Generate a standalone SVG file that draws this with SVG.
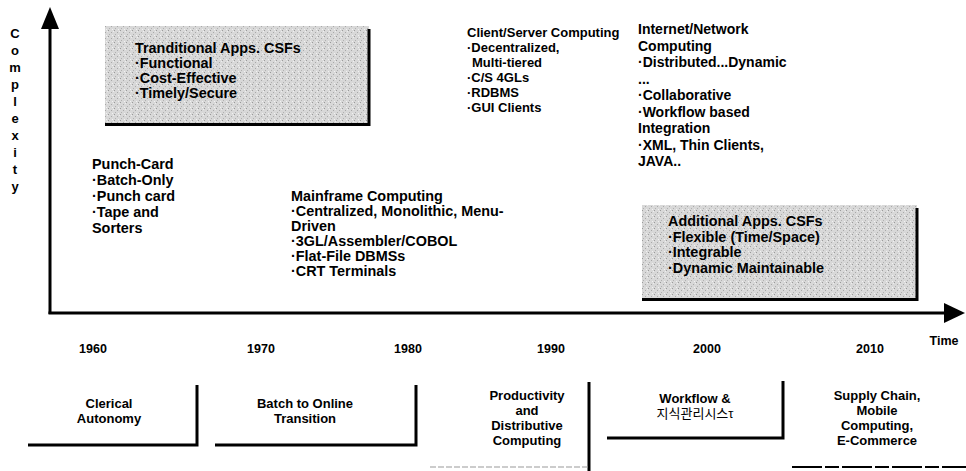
<svg xmlns="http://www.w3.org/2000/svg" width="966" height="471" viewBox="0 0 966 471">
<defs>
<pattern id="speckle" width="6" height="6" patternUnits="userSpaceOnUse">
<rect width="6" height="6" fill="#d8d8d8"/>
<rect x="0" y="0" width="1" height="1" fill="#9a9a9a"/>
<rect x="3" y="2" width="1" height="1" fill="#a8a8a8"/>
<rect x="1" y="4" width="1" height="1" fill="#b0b0b0"/>
<rect x="4" y="5" width="1" height="1" fill="#f2f2f2"/>
<rect x="5" y="1" width="1" height="1" fill="#eeeeee"/>
</pattern>
</defs>
<style>
text{font-family:"Liberation Sans",Arial,"Noto Sans CJK KR",sans-serif;font-weight:bold;fill:#000}
.t{font-size:14.4px}
.s{font-size:13px}
.n{font-size:14px}
.y{font-size:12.5px}
.b{font-size:13px;text-anchor:middle}
.c{font-size:13px;text-anchor:middle}
.ln{stroke:#000;stroke-width:3;fill:none}
.lt{stroke:#999;stroke-width:1.2;fill:none;stroke-dasharray:6 2}
</style>
<rect width="966" height="471" fill="#fff"/>

<g id="axes">
<line class="ln" x1="50" y1="24" x2="50" y2="314"/>
<polygon points="50,7 41,29 59,29" fill="#000"/>
<line class="ln" x1="48.5" y1="313" x2="948" y2="313"/>
<polygon points="965,313 944,303 944,323" fill="#000"/>
</g>

<g id="complexity-label">
<text class="c" x="15" y="38">C</text>
<text class="c" x="15" y="55">o</text>
<text class="c" x="15" y="72">m</text>
<text class="c" x="15" y="89">p</text>
<text class="c" x="15" y="106">l</text>
<text class="c" x="15" y="123">e</text>
<text class="c" x="15" y="140">x</text>
<text class="c" x="15" y="157">i</text>
<text class="c" x="15" y="174">t</text>
<text class="c" x="15" y="191">y</text>
</g>

<g id="traditional-csfs">
<rect x="105" y="26" width="264" height="98" fill="url(#speckle)"/>
<polyline class="ln" points="369,29 369,124.5 105,124.5"/>
<text class="t" x="135" y="53">Tranditional Apps. CSFs</text>
<text class="t" x="135" y="68">·Functional</text>
<text class="t" x="135" y="83">·Cost-Effective</text>
<text class="t" x="135" y="98">·Timely/Secure</text>
</g>

<g id="punch-card">
<text class="t" x="92" y="169">Punch-Card</text>
<text class="t" x="92" y="185">·Batch-Only</text>
<text class="t" x="92" y="201">·Punch card</text>
<text class="t" x="92" y="217">·Tape and</text>
<text class="t" x="92" y="233">Sorters</text>
</g>

<g id="mainframe">
<text class="t" x="291" y="201">Mainframe Computing</text>
<text class="t" x="291" y="216">·Centralized, Monolithic, Menu-</text>
<text class="t" x="291" y="231">Driven</text>
<text class="t" x="291" y="246">·3GL/Assembler/COBOL</text>
<text class="t" x="291" y="261">·Flat-File DBMSs</text>
<text class="t" x="291" y="276">·CRT Terminals</text>
</g>

<g id="client-server">
<text class="s" x="467" y="37">Client/Server Computing</text>
<text class="s" x="467" y="52">·Decentralized,</text>
<text class="s" x="472" y="67">Multi-tiered</text>
<text class="s" x="467" y="82">·C/S 4GLs</text>
<text class="s" x="467" y="97">·RDBMS</text>
<text class="s" x="467" y="112">·GUI Clients</text>
</g>

<g id="internet">
<text class="n" x="638" y="34">Internet/Network</text>
<text class="n" x="638" y="50.5">Computing</text>
<text class="n" x="638" y="67">·Distributed...Dynamic</text>
<text class="n" x="638" y="83.5">...</text>
<text class="n" x="638" y="100">·Collaborative</text>
<text class="n" x="638" y="116.5">·Workflow based</text>
<text class="n" x="638" y="133">Integration</text>
<text class="n" x="638" y="149.5">·XML, Thin Clients,</text>
<text class="n" x="638" y="166">JAVA..</text>
</g>

<g id="additional-csfs">
<rect x="642" y="205" width="275" height="94" fill="url(#speckle)"/>
<polyline class="ln" points="917,208 917,299.5 642,299.5"/>
<text class="t" x="668" y="226">Additional Apps. CSFs</text>
<text class="t" x="668" y="241.5">·Flexible (Time/Space)</text>
<text class="t" x="668" y="257">·Integrable</text>
<text class="t" x="668" y="272.5">·Dynamic Maintainable</text>
</g>

<g id="years">
<text class="y" x="93" y="353" text-anchor="middle">1960</text>
<text class="y" x="261" y="353" text-anchor="middle">1970</text>
<text class="y" x="408" y="353" text-anchor="middle">1980</text>
<text class="y" x="551" y="353" text-anchor="middle">1990</text>
<text class="y" x="707" y="353" text-anchor="middle">2000</text>
<text class="y" x="870" y="353" text-anchor="middle">2010</text>
<text class="y" x="944" y="345" text-anchor="middle">Time</text>
</g>

<g id="clerical">
<polyline class="ln" points="197,385 197,445 28,445"/>
<text class="b" x="109" y="408">Clerical</text>
<text class="b" x="109" y="423">Autonomy</text>
</g>

<g id="batch-online">
<polyline class="ln" points="416,385 416,445 215,445"/>
<text class="b" x="305" y="408">Batch to Online</text>
<text class="b" x="305" y="423">Transition</text>
</g>

<g id="productivity">
<line class="ln" x1="589" y1="382" x2="589" y2="471"/>
<line class="lt" x1="430" y1="467" x2="588" y2="467"/>
<text class="b" x="527" y="400">Productivity</text>
<text class="b" x="527" y="415">and</text>
<text class="b" x="527" y="430">Distributive</text>
<text class="b" x="527" y="445">Computing</text>
</g>

<g id="workflow">
<polyline class="ln" points="783,381 783,438 607,438"/>
<text class="b" x="695" y="403">Workflow &amp;</text>
<text class="b" x="695" y="418" style="font-weight:normal">지식관리시스τ</text>
</g>

<g id="supply-chain">
<line x1="792" y1="467" x2="966" y2="467" stroke="#000" stroke-width="2" stroke-dasharray="30 3 14 3"/>
<text class="b" x="877" y="400">Supply Chain,</text>
<text class="b" x="877" y="415">Mobile</text>
<text class="b" x="877" y="430">Computing,</text>
<text class="b" x="877" y="445">E-Commerce</text>
</g>
</svg>
